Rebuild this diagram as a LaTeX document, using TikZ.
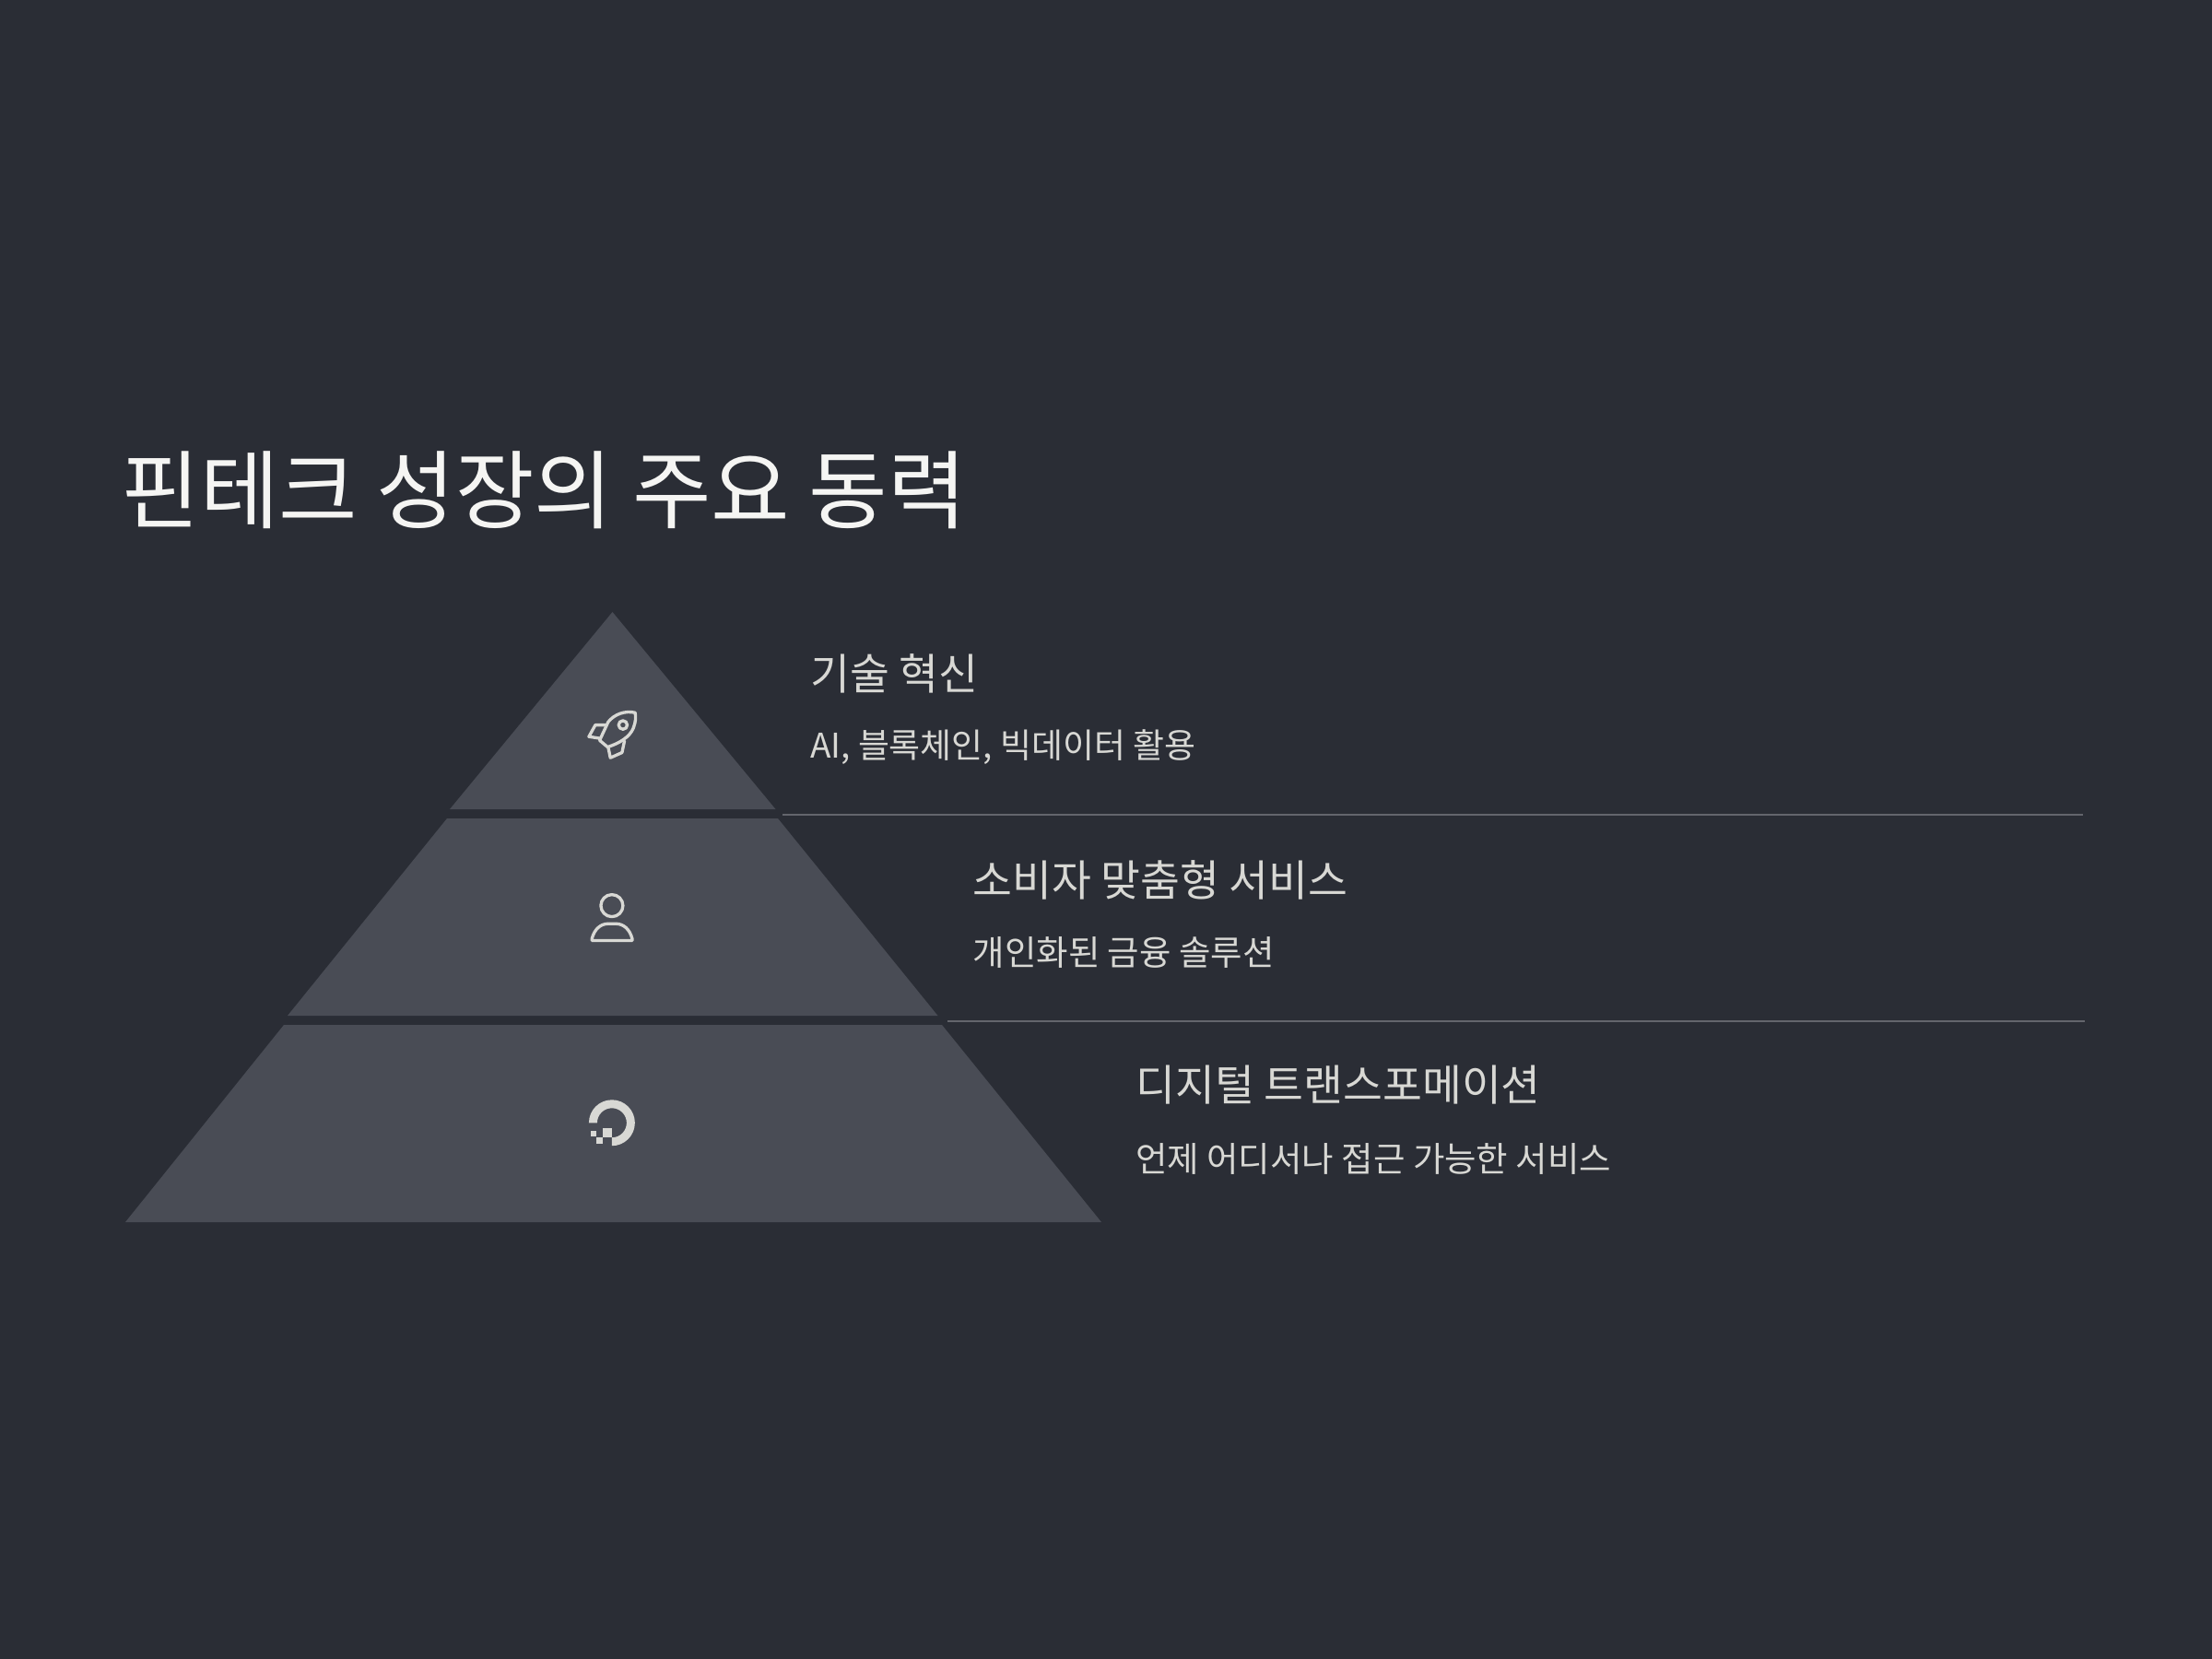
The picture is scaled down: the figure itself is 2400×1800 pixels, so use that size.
\documentclass[tikz,border=0pt]{standalone}
\usepackage{fontspec}
\setmainfont{Noto Sans CJK KR}
\definecolor{FinBg}{HTML}{2A2D35}
\definecolor{FinBand}{HTML}{494C55}
\definecolor{FinLine}{HTML}{63656C}
\definecolor{FinTitle}{HTML}{F5F5F3}
\definecolor{FinText}{HTML}{D8D8D4}
\definecolor{FinIcon}{HTML}{D8D8D4}
\tikzset{
  fin band/.style={fill=FinBand},
  fin rule/.style={draw=FinLine,line width=0.57pt},
  fin title/.style={
    text=FinTitle,
    anchor=base west,
    inner sep=0pt,
    font=\fontsize{26.42pt}{30pt}\selectfont
  },
  fin head/.style={
    text=FinText,
    anchor=base west,
    inner sep=0pt,
    font=\fontsize{13.25pt}{16pt}\selectfont
  },
  fin sub/.style={
    text=FinText,
    anchor=base west,
    inner sep=0pt,
    font=\fontsize{10.65pt}{13pt}\selectfont
  },
  fin icon/.style={draw=FinIcon,line width=0.95pt,line join=round,line cap=round},
  fin icon solid/.style={fill=FinIcon},
  fin zoomed/.style={x=0.003333cm,y=-0.003333cm}
}

\begin{document}
\begin{tikzpicture}[x=0.01cm,y=-0.01cm]
  \fill[FinBg] (0,0) rectangle (2400,1800);

  \fill[fin band] (664.5,664) -- (841.5,878) -- (488,878) -- cycle;
  \fill[fin band] (485,888) -- (844,888) -- (1017.5,1102) -- (312,1102) -- cycle;
  \fill[fin band] (308,1112) -- (1022,1112) -- (1195,1326) -- (136,1326) -- cycle;

  \coordinate (ruleA) at (849,884);
  \coordinate (ruleAend) at (2260,884);
  \coordinate (ruleB) at (1028,1108);
  \coordinate (ruleBend) at (2262,1108);
  \draw[fin rule] (ruleA) -- (ruleAend);
  \draw[fin rule] (ruleB) -- (ruleBend);

  \node[fin title] (title) at (131,566) {핀테크 성장의 주요 동력};
  \node[fin head] (tech) at (879,748) {기술 혁신};
  \node[fin sub,font=\fontsize{10.5pt}{13pt}\selectfont] (techsub) at (878.5,822.5) {AI, 블록체인, 빅데이터 활용};
  \node[fin head] (custom) at (1055,972) {소비자 맞춤형 서비스};
  \node[fin sub] (customsub) at (1055,1047) {개인화된 금융 솔루션};
  \node[fin head] (digital) at (1232,1194.5) {디지털 트랜스포메이션};
  \node[fin sub] (digitalsub) at (1231.5,1271) {언제 어디서나 접근 가능한 서비스};

  \begin{scope}[shift={(600,740)},fin zoomed]
    \draw[fin icon] (268,100) .. controls (235,92) and (200,105) .. (180,130)
      -- (152,190) -- (178,212) .. controls (215,200) and (250,180) .. (262,150)
      .. controls (270,130) and (270,115) .. (268,100) -- cycle;
    \draw[fin icon] (170,140) -- (138,140) -- (117,178) -- (155,184);
    \draw[fin icon] (180,213) -- (187,247) -- (225,230) -- (233,192);
    \draw[fin icon] (228,140) circle[radius=14];
  \end{scope}

  \begin{scope}[shift={(600,950)},fin zoomed]
    \draw[fin icon] (192,98) circle[radius=36];
    \draw[fin icon] (127,212) -- (258,212) -- (258,205)
      .. controls (250,175) and (230,157) .. (205,157) -- (180,157)
      .. controls (155,157) and (135,175) .. (127,205) -- cycle;
  \end{scope}

  \begin{scope}[shift={(600,1170)},fin zoomed]
    \fill[fin icon solid] (117,145) arc[start angle=180,end angle=450,radius=75]
      -- (192,193) arc[start angle=450,end angle=180,radius=48] -- cycle;
    \fill[fin icon solid] (163,162) rectangle (192,192);
    \fill[fin icon solid] (140,192) rectangle (163,214);
    \fill[fin icon solid] (122,172) rectangle (140,190);
  \end{scope}
\end{tikzpicture}
\end{document}
